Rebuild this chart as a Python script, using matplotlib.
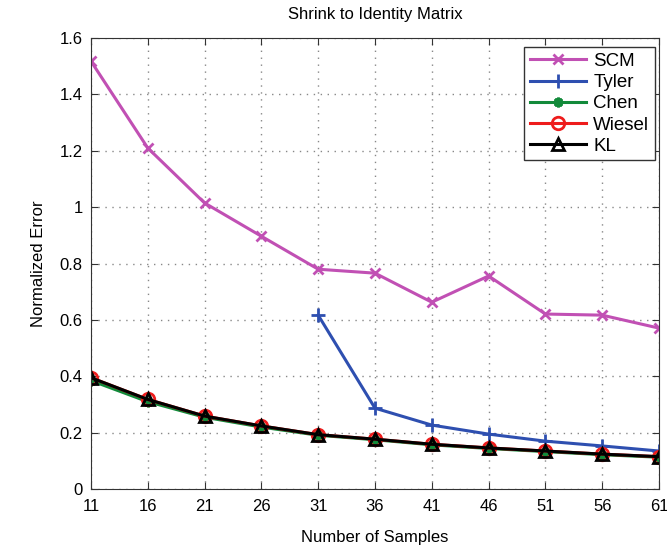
import matplotlib.pyplot as plt
import numpy as np

plt.rcParams['font.family'] = ['Liberation Sans', 'DejaVu Sans']

samples = [11, 16, 21, 26, 31, 36, 41, 46, 51, 56, 61]
scm = [1.518, 1.21, 1.015, 0.897, 0.780, 0.766, 0.663, 0.756, 0.621, 0.617, 0.571]
tyler_x = [31, 36, 41, 46, 51, 56, 61]
tyler = [0.617, 0.287, 0.227, 0.195, 0.170, 0.153, 0.135]
chen = [0.385, 0.310, 0.255, 0.220, 0.191, 0.175, 0.157, 0.144, 0.133, 0.122, 0.113]
wiesel = [0.395, 0.318, 0.259, 0.224, 0.193, 0.177, 0.159, 0.146, 0.135, 0.124, 0.115]
kl = [0.395, 0.318, 0.259, 0.224, 0.193, 0.177, 0.159, 0.146, 0.135, 0.124, 0.115]

fig = plt.figure(figsize=(6.67, 5.52), dpi=100)
ax = fig.add_axes([0.1364, 0.114, 0.8516, 0.817])

lw = 2.2
ax.plot(samples, scm, color='#c150b4', marker='x', markersize=7, mew=2, lw=lw, label='SCM')
ax.plot(tyler_x, tyler, color='#2e4fb0', marker='+', markersize=10, mew=2, lw=lw, label='Tyler')
ax.plot(samples, chen, color='#128a3a', marker=(8, 2, 0), markersize=7, mew=2, lw=lw, label='Chen')
ax.plot(samples, wiesel, color='#ee1c1c', marker='o', markersize=9, mew=2, mfc='none', lw=lw, label='Wiesel')
ax.plot(samples, kl, color='black', marker='^', markersize=9, mew=2, mfc='none', lw=lw, label='KL')

ax.set_xlim(11, 61)
ax.set_ylim(0, 1.6)
ax.set_xticks(samples)
ax.set_yticks(np.arange(0, 1.61, 0.2))
ax.set_yticklabels(['0', '0.2', '0.4', '0.6', '0.8', '1', '1.2', '1.4', '1.6'])
ax.tick_params(direction='in', top=True, right=True, labelsize=12, length=5,
               color='#333333')
ax.tick_params(axis='x', pad=7)
ax.tick_params(axis='y', pad=6)
for s in ax.spines.values():
    s.set_color('#333333')
ax.grid(True, linestyle=(0, (1, 4)), color='#888888', linewidth=1)

ax.set_title('Shrink to Identity Matrix', fontsize=12, pad=14)
ax.set_xlabel('Number of Samples', fontsize=12, labelpad=12)
ax.set_ylabel('Normalized Error', fontsize=12, labelpad=10)

leg = ax.legend(loc='upper right', fontsize=13.5, fancybox=False, edgecolor='#333333',
                handlelength=3, handletextpad=0.4, borderpad=0.3, labelspacing=0.22,
                framealpha=1, borderaxespad=0, bbox_to_anchor=(0.993, 0.980))
leg.get_frame().set_linewidth(1)

fig.savefig('out.png', dpi=100)
